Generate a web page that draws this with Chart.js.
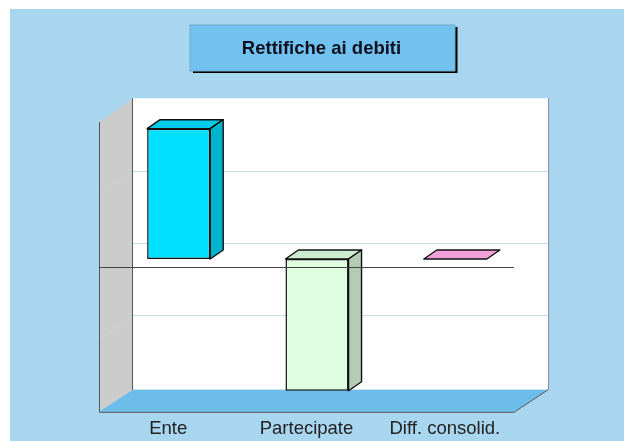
<!DOCTYPE html>
<html><head><meta charset="utf-8">
<style>
html,body{margin:0;padding:0;background:#fff;width:624px;height:441px;overflow:hidden}
#bg{position:absolute;left:10px;top:9px;width:614px;height:432px;background:#A8D6EE}
#c{position:absolute;left:0;top:0}
</style>
<script src="https://cdn.jsdelivr.net/npm/chart.js@4"></script>
</head><body>
<div id="bg"></div>
<canvas id="c" width="643" height="446"></canvas>
<script>
const titleText = "Rettifiche ai debiti";
const categories = ["Ente", "Partecipate", "Diff. consolid."];
const values = [1.8, -1.82, 0];
const frontColors = ["#00E0FF", "#E0FFE0", "#FF99CC"];
const topColors = ["#00CDEA", "#CDEBCD", "#F2A0D8"];
const sideColors = ["#00B3CC", "#B3CCB3", "#CC7AA3"];
const yTicks = {min: -2, max: 2, step: 1};

const wall = {dx: 34, topDy: -24, gridDy: -24, botDy: -22};
const barFront = {dx: 10.5, dy: -8};
const barBack = {dx: 13, dy: -9};

function poly(ctx, pts, fill, stroke, lw) {
  ctx.beginPath();
  pts.forEach((p, i) => i ? ctx.lineTo(p[0], p[1]) : ctx.moveTo(p[0], p[1]));
  ctx.closePath();
  if (fill) { ctx.fillStyle = fill; ctx.fill(); }
  if (stroke) { ctx.strokeStyle = stroke; ctx.lineWidth = lw || 1; ctx.stroke(); }
}

const scene = {
  id: "scene",
  beforeDraw(chart) {
    const ctx = chart.ctx, a = chart.chartArea, y = chart.scales.y;
    const L = a.left, R = a.right, T = a.top, B = a.bottom, dx = wall.dx;
    const tT = T + wall.topDy, bB = B + wall.botDy;
    ctx.save();
    // title box
    poly(ctx, [[193, 27], [457.5, 27], [457.5, 73], [193, 73]], "#000");
    poly(ctx, [[190, 25], [455, 25], [455, 71], [190, 71]], "#72C2EF", "#6FA8CB", 1);
    // back wall
    poly(ctx, [[L + dx, tT], [R + dx, tT], [R + dx, bB], [L + dx, bB]], "#FFFFFF");
    // side wall
    poly(ctx, [[L, T], [L + dx, tT], [L + dx, bB], [L, B]], "#CCCCCC");
    // floor
    poly(ctx, [[L, B], [L + dx, bB], [R + dx, bB], [R, B]], "#6CBDEA");
    // grid on the back wall and side wall
    y.ticks.forEach(t => {
      if (t.value === yTicks.min || t.value === yTicks.max) return;
      const py = y.getPixelForValue(t.value), gy = Math.round(py + wall.gridDy) + .5;
      ctx.strokeStyle = "#C6DFE6"; ctx.lineWidth = 1;
      ctx.beginPath(); ctx.moveTo(L + dx, gy); ctx.lineTo(R + dx, gy); ctx.stroke();
      if (t.value !== 0) {
        ctx.strokeStyle = "#D2D2D2";
        ctx.beginPath(); ctx.moveTo(L, py); ctx.lineTo(L + dx, gy); ctx.stroke();
      }
    });
    // edges
    ctx.strokeStyle = "#555"; ctx.lineWidth = 1;
    ctx.beginPath();
    ctx.moveTo(L + dx - .5, tT); ctx.lineTo(L + dx - .5, bB);
    ctx.moveTo(L + .5, T); ctx.lineTo(L + .5, B + .5); ctx.lineTo(R, B + .5); ctx.lineTo(R + dx, bB);
    ctx.stroke();
    ctx.strokeStyle = "#8A8FA0";
    ctx.beginPath(); ctx.moveTo(R + dx + .5, tT); ctx.lineTo(R + dx + .5, bB); ctx.stroke();
    ctx.restore();
  },
  beforeDatasetDraw(chart) {
    chart.ctx.save();
    chart.ctx.translate(barFront.dx, barFront.dy);
  },
  afterDatasetDraw(chart, args) {
    const ctx = chart.ctx;
    const dx = barBack.dx, dy = barBack.dy;
    args.meta.data.forEach((bar, i) => {
      const hw = bar.width / 2;
      const l = bar.x - hw, r = bar.x + hw;
      const top = Math.min(bar.y, bar.base), bot = Math.max(bar.y, bar.base);
      ctx.lineJoin = "round";
      poly(ctx, [[l, top], [l + dx, top + dy], [r + dx, top + dy], [r, top]], topColors[i], "#111", 1.4);
      if (bot - top > 0.5) {
        poly(ctx, [[r, top], [r + dx, top + dy], [r + dx, bot + dy], [r, bot]], sideColors[i], "#111", 1.4);
      }
    });
    ctx.restore();
    // zero line sits in front of the bars
    const a = chart.chartArea, z = Math.round(chart.scales.y.getPixelForValue(0)) + .5;
    ctx.save();
    ctx.strokeStyle = "#444"; ctx.lineWidth = 1;
    ctx.beginPath(); ctx.moveTo(a.left, z); ctx.lineTo(a.right, z); ctx.stroke();
    ctx.restore();
  }
};

new Chart(document.getElementById("c"), {
  type: "bar",
  data: {
    labels: categories,
    datasets: [{
      data: values,
      backgroundColor: frontColors,
      borderColor: "#111",
      borderWidth: 1.5,
      borderSkipped: false,
      barPercentage: 0.456,
      categoryPercentage: 1
    }]
  },
  plugins: [scene],
  options: {
    responsive: false,
    animation: false,
    events: [],
    layout: {padding: {left: 99, right: 99, top: 0, bottom: 0}},
    plugins: {
      legend: {display: false},
      tooltip: {enabled: false},
      title: {
        display: true, text: titleText, color: "#0E0E1E",
        font: {family: "Liberation Sans", size: 18.5, weight: "bold"},
        padding: {top: 38, bottom: 62}
      }
    },
    scales: {
      x: {
        grid: {display: false, drawTicks: false}, border: {display: false},
        ticks: {color: "#222", padding: 6, autoSkip: false, maxRotation: 0,
                font: {family: "Liberation Sans", size: 18.5}}
      },
      y: {
        position: "right", min: yTicks.min, max: yTicks.max,
        grid: {display: false}, border: {display: false},
        ticks: {display: false, stepSize: yTicks.step},
        afterFit(scale) { scale.width = 30; }
      }
    }
  }
});
</script>
</body></html>
